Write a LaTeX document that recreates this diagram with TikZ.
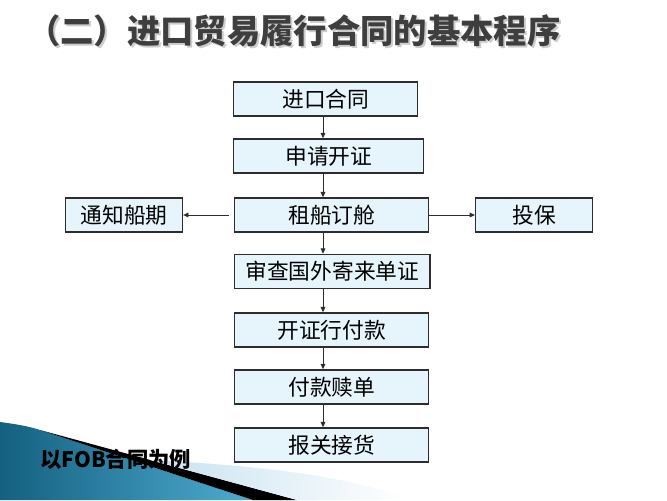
\documentclass[tikz,border=0pt]{standalone}
\usepackage{fontspec}
\setmainfont{Noto Sans CJK SC}
\usepackage{tikz}
\usetikzlibrary{positioning,arrows.meta}
\definecolor{boxclr}{RGB}{230,244,252}
\definecolor{lineclr}{RGB}{45,45,45}
\definecolor{titleclr}{RGB}{62,62,62}
\definecolor{tealdark}{RGB}{20,96,128}
\definecolor{teallight}{RGB}{78,172,208}
\definecolor{paleclr}{RGB}{200,226,240}
\tikzset{
    box/.style={rectangle,draw=lineclr,line width=1.1pt,fill=boxclr,
                minimum height=25.5pt,minimum width=145.5pt,inner sep=0pt,
                anchor=west,font=\fontsize{16.3}{18}\selectfont},
    side/.style={box,minimum width=87.5pt},
    edge/.style={-{Triangle[length=4pt,width=3.5pt]},draw=lineclr,line width=0.7pt},
    heading/.style={anchor=west,inner sep=0pt,font=\bfseries\fontsize{25}{28}\selectfont},
}

\begin{document}
\begin{tikzpicture}[x=0.75pt,y=-0.75pt]
\useasboundingbox (0,0) rectangle (667,500);

\shade[left color=tealdark,right color=teallight]
    (0,422) .. controls (15,424) and (28,426) .. (40,430) -- (253,500) -- (0,500) -- cycle;
\fill[black] (40,430) -- (297,500) -- (253,500) -- cycle;
\shade[left color=paleclr,right color=white]
    (150,460) .. controls (250,465) and (350,475) .. (410,500) -- (297,500) -- cycle;

\node[heading,text=gray!40] (titleshadow) at (29,33) {（二）进口贸易履行合同的基本程序};
\node[heading,text=titleclr] (title) at (27,31) {（二）进口贸易履行合同的基本程序};
\node[anchor=west,inner sep=0pt,font=\bfseries\fontsize{16}{18}\selectfont] (fob) at (40,459) {以FOB合同为例};

\coordinate (ax) at (323,0);
\node[box,minimum width=138pt]   (jk) at (233,99)  {进口合同};
\node[box,minimum width=142.5pt] (sq) at (233,156) {申请开证};
\node[box]                       (zc) at (234,215) {租船订舱};
\node[box,minimum width=146.3pt] (sc) at (234,271.5) {审查国外寄来单证};
\node[box]                       (kz) at (234,330) {开证行付款};
\node[box]                       (fk) at (234,387) {付款赎单};
\node[box]                       (bg) at (234,445) {报关接货};
\node[side] (tz) at (65,215)  {通知船期};
\node[side] (tb) at (475,215) {投保};

\draw[edge] (jk.south -| ax) -- (sq.north -| ax);
\draw[edge] (sq.south -| ax) -- (zc.north -| ax);
\draw[edge] (zc.south -| ax) -- (sc.north -| ax);
\draw[edge] (sc.south -| ax) -- (kz.north -| ax);
\draw[edge] (kz.south -| ax) -- (fk.north -| ax);
\draw[edge] (fk.south -| ax) -- (bg.north -| ax);
\draw[edge,shorten <=4pt] (zc) -- (tz);
\draw[edge] (zc) -- (tb);
\end{tikzpicture}
\end{document}
